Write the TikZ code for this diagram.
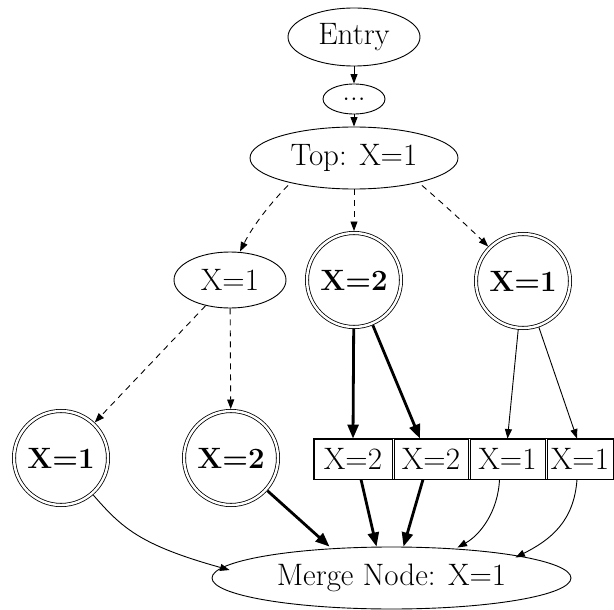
\documentclass[tikz,border=0pt]{standalone}
\usetikzlibrary{arrows.meta,shapes.geometric,fit}
\begin{document}
\begin{tikzpicture}[x=1pt,y=-1pt,
  font=\fontsize{31}{36}\selectfont,
  ell/.style={draw,ellipse,inner sep=0pt,line width=0.9pt},
  dcirc/.style={draw,circle,double,double distance=2.4pt,line width=0.8pt,inner sep=0pt,minimum size=94pt,outer sep=2pt,font=\fontsize{29.4}{34}\selectfont\bfseries},
  cell/.style={draw,rectangle,inner sep=0pt,line width=0.9pt,minimum height=40pt},
  thin/.style={line width=0.9pt,-{Triangle[length=9.5pt,width=7pt]}},
  thick/.style={line width=2.8pt,-{Triangle[length=14pt,width=11pt]}},
  dsh/.style={thin,dash pattern=on 6pt off 5pt}
]
\useasboundingbox (0,0) rectangle (614,610);
\node[ell,minimum width=132pt,minimum height=58pt] (entry) at (354,37) {Entry};
\node[ell,minimum width=62pt,minimum height=30pt] (dots) at (354,99) {...};
\node[ell,minimum width=208pt,minimum height=62pt] (top) at (354,158) {Top: X=1};
\node[ell,minimum width=112pt,minimum height=56pt] (mid) at (230,280) {X=1};
\node[dcirc] (m2) at (354,280) {X=2};
\node[dcirc] (r1) at (523,281) {X=1};
\node[dcirc] (bl) at (61,458) {X=1};
\node[dcirc] (b2) at (231,458) {X=2};
\node[cell,minimum width=78pt] (f1) at (353,459) {X=2};
\node[cell,minimum width=74pt] (f2) at (431,459) {X=2};
\node[cell,minimum width=75pt] (f3) at (507.5,459) {X=1};
\node[cell,minimum width=66pt] (f4) at (580,459) {X=1};
\node[draw,rectangle,line width=0.9pt,inner sep=0pt,fit=(f1)(f4)] (rec) {};
\node[ell,minimum width=359pt,minimum height=62pt] (merge) at (391.5,578) {Merge Node: X=1};

\draw[thin] (entry) -- (dots);
\draw[thin] (dots) -- (top);
\draw[dsh] ([xshift=-66pt,yshift=4pt]top.south) .. controls ([xshift=-80pt,yshift=-10pt]top.south) and ([xshift=-100pt,yshift=-34pt]top.south) .. ([xshift=10pt]mid.north);
\draw[dsh] (top) -- (m2);
\draw[dsh] ([xshift=68pt,yshift=4pt]top.south) .. controls ([xshift=90pt,yshift=-15pt]top.south) and ([xshift=115pt,yshift=-38pt]top.south) .. (r1);
\draw[dsh] (mid) -- (bl);
\draw[dsh] (mid) -- (b2);
\draw[thick] (m2) -- (f1.north);
\draw[thick] (m2) -- ([xshift=-11pt]f2.north);
\draw[thin] (r1) -- (f3.north);
\draw[thin] (r1) -- ([xshift=-3pt]f4.north);
\draw[thin] (bl) .. controls (122,528) and (140,545) .. ([xshift=18pt,yshift=8pt]merge.west);
\draw[thick] (b2) -- ([xshift=-62pt]merge.north);
\draw[thick] ([xshift=8pt]f1.south) -- ([xshift=-15pt]merge.north);
\draw[thick] ([xshift=-8pt]f2.south) -- ([xshift=12pt]merge.north);
\draw[thin] ([xshift=-8pt]f3.south) .. controls (498,512) and (480,535) .. ([xshift=66pt,yshift=-1pt]merge.north);
\draw[thin] ([xshift=-3pt]f4.south) .. controls (574,522) and (550,540) .. ([xshift=124pt,yshift=-11pt]merge.north);
\end{tikzpicture}
\end{document}
